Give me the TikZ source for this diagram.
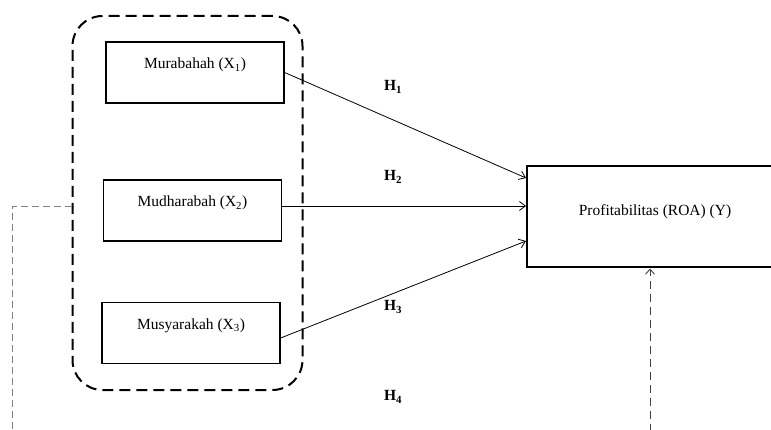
\documentclass[tikz,border=0pt]{standalone}
\usepackage{fontspec}
\setmainfont{Liberation Serif}
\usetikzlibrary{arrows.meta}
\begin{document}
\begin{tikzpicture}[x=1pt,y=-1pt,
  varbox/.style={draw, line width=1.3pt, minimum width=178pt, minimum height=61pt,
    inner sep=0pt, font=\fontsize{15.5}{18}\selectfont, text height=11pt, text depth=18pt},
  depbox/.style={draw, line width=2pt, minimum width=262pt, minimum height=101pt,
    inner sep=0pt, font=\fontsize{15.5}{18}\selectfont, text height=11pt, text depth=14.5pt},
  groupbox/.style={draw, line width=2pt, dash pattern=on 11pt off 6pt,
    rounded corners=30pt, minimum width=230pt, minimum height=374pt},
  hyp/.style={font=\fontsize{15.5}{18}\selectfont\bfseries},
  path/.style={line width=0.8pt, -{Straight Barb[length=6pt,width=9pt]}},
  moddash/.style={line width=0.9pt, gray, dash pattern=on 7pt off 4pt},
  moddashup/.style={line width=0.9pt, black!75, dash pattern=on 8pt off 5pt,
    -{Straight Barb[length=5pt,width=9pt]}}]
\useasboundingbox (0,0) rectangle (771,430);

% moderating group around the three financing variables
\node[groupbox] (grp) at (187.5,203) {};

% independent variables
\node[varbox] (x1) at (195,72.5) {Murabahah (X\textsubscript{1})};
\node[varbox] (x2) at (192.5,210.5) {Mudharabah (X\textsubscript{2})};
\node[varbox] (x3) at (191,333) {Musyarakah (X\textsubscript{3})};

% dependent variable
\node[depbox] (y) at (658,217) {\hspace*{-6pt}Profitabilitas (ROA) (Y)};

% hypothesis paths
\draw[path] (x1.east) -- ([yshift=39pt]y.west);
\draw[path] ([yshift=4.5pt]x2.east) -- ([yshift=11pt]y.west);
\draw[path] ([yshift=-5pt]x3.east) -- ([yshift=-24pt]y.west);

% hypothesis labels
\node[hyp] (h1) at (393,87) {H\textsubscript{1}};
\node[hyp] (h2) at (393,177) {H\textsubscript{2}};
\node[hyp] (h3) at (393,307) {H\textsubscript{3}};
\node[hyp] (h4) at (393,397) {H\textsubscript{4}};

% simultaneous effect H4 (dashed)
\coordinate (lowleft) at (12,432);
\coordinate (lowright) at (650,432);
\draw[moddash] ([yshift=-3.5pt]grp.west) -| (lowleft);
\draw[moddashup] (lowright) -- (lowright |- y.south);
\end{tikzpicture}
\end{document}
